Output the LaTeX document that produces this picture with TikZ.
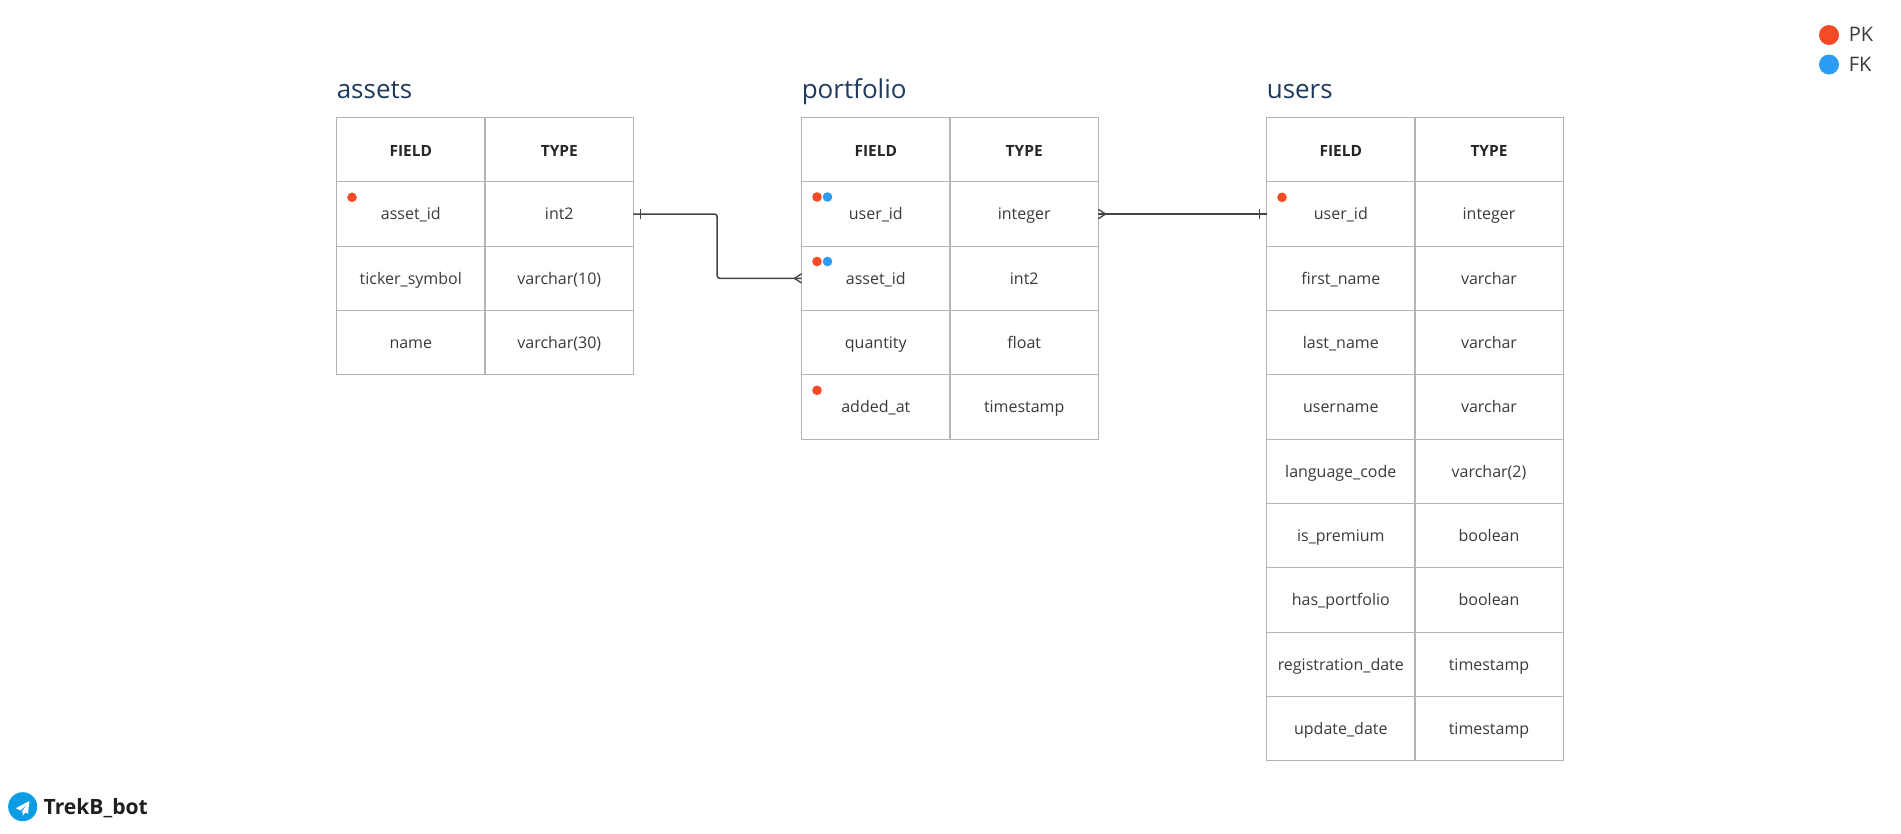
\documentclass[tikz,border=0pt]{standalone}
\usepackage{fontspec}
\setmainfont{Open Sans}
\usetikzlibrary{positioning}
\definecolor{gridgray}{HTML}{B4B4B4}
\definecolor{linkgray}{HTML}{444444}
\definecolor{titleblue}{HTML}{1F3A5C}
\definecolor{cellink}{HTML}{3A3A3A}
\definecolor{pkred}{HTML}{F44A26}
\definecolor{fkblue}{HTML}{2D9CF2}
\definecolor{tgblue}{HTML}{0A9DE3}
\tikzset{
  cellbox/.style={draw=gridgray, line width=0.9pt, minimum width=111.2pt, minimum height=48.25pt,
    inner sep=0pt, outer sep=0pt, text=cellink, font=\fontsize{12pt}{14pt}\selectfont,
    text height=11.4pt, text depth=2.6pt},
  headbox/.style={cellbox, font=\fontsize{11.6pt}{14pt}\selectfont\bfseries, text=black!85, text height=12.4pt},
  tabletitle/.style={anchor=base west, inner sep=0pt, text=titleblue, font=\fontsize{19.5pt}{23pt}\selectfont},
  pkdot/.style={circle, fill=pkred, inner sep=0pt, minimum size=7.2pt},
  fkdot/.style={circle, fill=fkblue, inner sep=0pt, minimum size=7.2pt},
  legenddot/.style={circle, inner sep=0pt, minimum size=15pt},
  legendtext/.style={anchor=west, inner sep=0pt, text=cellink, font=\fontsize{15pt}{18pt}\selectfont},
  linkline/.style={draw=linkgray, line width=1.15pt},
  endmark/.style={draw=linkgray, line width=1pt}
}
\begin{document}
\begin{tikzpicture}[x=0.75pt, y=-0.75pt]
    \useasboundingbox (0,0) rectangle (1901,833);
    % assets
    \node[tabletitle] (assetstitle) at (336.5,98) {assets};
    \node[headbox] (assets-0-f) at (410.8,149.7) {FIELD};
    \node[headbox] (assets-0-t) at (559.3,149.7) {TYPE};
    \foreach \f/\t [count=\i] in {asset\_id/int2, ticker\_symbol/varchar(10), name/varchar(30)} {
        \node[cellbox] (assets-\i-f) at (410.8,{149.7+64.33*\i}) {\f};
        \node[cellbox] (assets-\i-t) at (559.3,{149.7+64.33*\i}) {\t};
    }
    % portfolio
    \node[tabletitle] (portfoliotitle) at (801.5,98) {portfolio};
    \node[headbox] (portfolio-0-f) at (875.8,149.7) {FIELD};
    \node[headbox] (portfolio-0-t) at (1024.2,149.7) {TYPE};
    \foreach \f/\t [count=\i] in {user\_id/integer, asset\_id/int2, quantity/float, added\_at/timestamp} {
        \node[cellbox] (portfolio-\i-f) at (875.8,{149.7+64.33*\i}) {\f};
        \node[cellbox] (portfolio-\i-t) at (1024.2,{149.7+64.33*\i}) {\t};
    }
    % users
    \node[tabletitle] (userstitle) at (1266.5,98) {users};
    \node[headbox] (users-0-f) at (1340.8,149.7) {FIELD};
    \node[headbox] (users-0-t) at (1489,149.7) {TYPE};
    \foreach \f/\t [count=\i] in {user\_id/integer, first\_name/varchar, last\_name/varchar, username/varchar,
        language\_code/varchar(2), is\_premium/boolean, has\_portfolio/boolean,
        registration\_date/timestamp, update\_date/timestamp} {
        \node[cellbox] (users-\i-f) at (1340.8,{149.7+64.33*\i}) {\f};
        \node[cellbox] (users-\i-t) at (1489,{149.7+64.33*\i}) {\t};
    }
    % key dots
    \node[pkdot] (assetspk) at (352,197.3) {};
    \node[pkdot] (pfuserpk) at (817,197) {};
    \node[fkdot] (pfuserfk) at (827.5,197) {};
    \node[pkdot] (pfassetpk) at (817,261.5) {};
    \node[fkdot] (pfassetfk) at (827.5,261.5) {};
    \node[pkdot] (pfaddedpk) at (817,390.3) {};
    \node[pkdot] (userspk) at (1282,197.3) {};
    % links
    \draw[linkline, rounded corners=2pt] (assets-1-t.east) -- ++(83.7,0) |- (portfolio-2-f.west);
    \draw[linkline] (portfolio-1-t.east) -- (users-1-f.west);
    % ticks and crow feet
    \draw[endmark] ([xshift=5.2pt,yshift=-4pt]assets-1-t.east) -- ++(0,8pt);
    \draw[endmark] ([xshift=-5.2pt,yshift=-4pt]users-1-f.west) -- ++(0,8pt);
    \draw[endmark] ([yshift=3.5pt]portfolio-2-f.west) -- ++(-5.4pt,-3.5pt) -- ++(5.4pt,-3.5pt);
    \draw[endmark] ([yshift=3.5pt]portfolio-1-t.east) -- ++(5.4pt,-3.5pt) -- ++(-5.4pt,-3.5pt);
    % legend
    \node[legenddot, fill=pkred] (pklegend) at (1829,35) {};
    \node[legenddot, fill=fkblue] (fklegend) at (1829,64.5) {};
    \node[legendtext] (pktext) at (1848.5,34.5) {PK};
    \node[legendtext] (fktext) at (1848.5,64) {FK};
    % telegram mark
    \node[circle, fill=tgblue, inner sep=0pt, minimum size=21.8pt] (tgicon) at (22.7,806.7) {};
    \fill[white] (29.4,801) -- (15.8,808.2) -- (20.4,810.4) -- (27,804.5) -- (22.2,811) -- (23,815.5) -- (25.4,812.3) -- (28,813.8) -- cycle;
    \node[inner sep=0pt, text=black!88, font=\fontsize{15.8pt}{18pt}\selectfont\bfseries, right=4.4pt of tgicon, yshift=-1.2pt] (tgname) {TrekB\_bot};
\end{tikzpicture}
\end{document}
